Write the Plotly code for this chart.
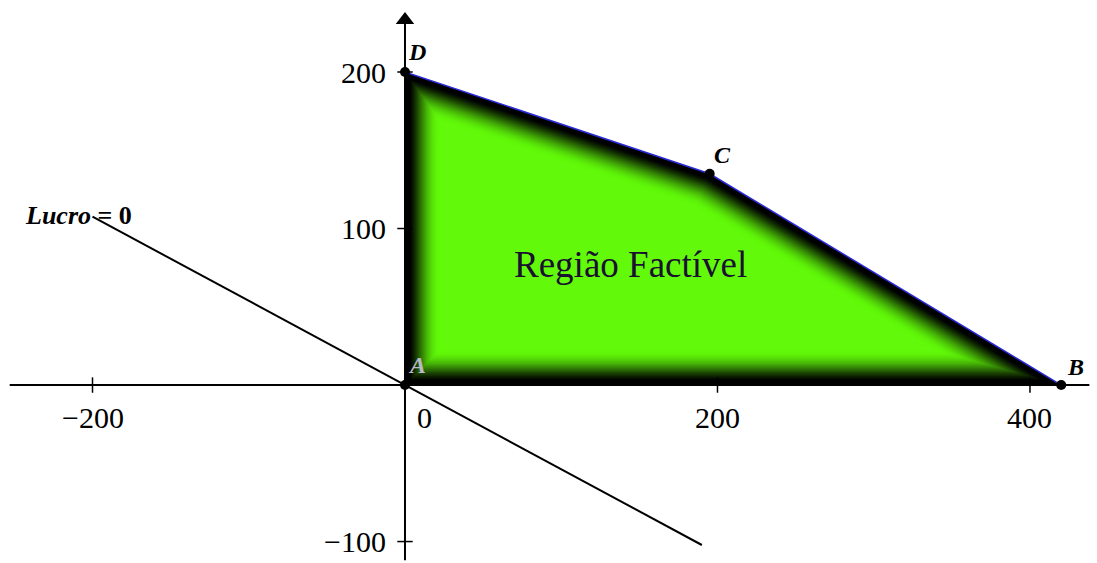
import numpy as np
import plotly.graph_objects as go

# vertices of the feasible region: A, B, C, D
vert_names = ['A', 'B', 'C', 'D']
vert_x = [0, 420, 195, 0]
vert_y = [0, 0, 135, 200]

# profit line (Lucro = 0) through the origin
lucro_x = [-200, 190]
lucro_y = [107.6, -102.2]

# axis ticks
x_ticks = [-200, 200, 400]
x_tick_labels = ['−200', '200', '400']
y_ticks = [-100, 100, 200]
y_tick_labels = ['−100', '100', '200']

X_RANGE = [-259.2, 442.9]
Y_RANGE = [-113.7, 246.0]
SERIF = 'Liberation Serif'
GREEN = np.array([98, 250, 10])


def inset(xs, ys, d):
    # shrink a convex (ccw) polygon by moving each edge inwards by d
    pts = np.column_stack([xs, ys]).astype(float)
    n = len(pts)
    edges = []
    for i in range(n):
        p, q = pts[i], pts[(i + 1) % n]
        t = (q - p) / np.linalg.norm(q - p)
        edges.append((p + np.array([-t[1], t[0]]) * d, t))
    out = []
    for i in range(n):
        (p1, t1), (p2, t2) = edges[i - 1], edges[i]
        a, _ = np.linalg.solve(np.array([t1, -t2]).T, p2 - p1)
        out.append(p1 + a * t1)
    return np.array(out)


fig = go.Figure()

# feasible region: dark blurred border fading into green
d0, d1 = 2.5, 22.0
for d in np.arange(0, d1 + 0.75, 0.75):
    t = np.clip((d - d0) / (d1 - d0), 0, 1)
    t = np.sin(t * np.pi / 2) ** 1.3
    r, g, b = (GREEN * t).astype(int)
    poly = inset(vert_x, vert_y, d)
    fig.add_trace(go.Scatter(
        x=list(poly[:, 0]) + [poly[0, 0]], y=list(poly[:, 1]) + [poly[0, 1]],
        mode='lines', fill='toself', fillcolor=f'rgb({r},{g},{b})',
        line=dict(width=0), hoverinfo='skip'))

# thin blue outline
fig.add_trace(go.Scatter(x=vert_x + [vert_x[0]], y=vert_y + [vert_y[0]], mode='lines',
                         line=dict(color='#2a2ad8', width=1.5), hoverinfo='skip'))

# axes
fig.add_trace(go.Scatter(x=[-253, 438], y=[0, 0], mode='lines',
                         line=dict(color='black', width=2), hoverinfo='skip'))
fig.add_trace(go.Scatter(x=[0, 0], y=[-112, 231], mode='lines',
                         line=dict(color='black', width=2), hoverinfo='skip'))
fig.add_trace(go.Scatter(x=[0], y=[233.2], mode='markers',
                         marker=dict(symbol='triangle-up', size=16, color='black'),
                         hoverinfo='skip'))
fig.add_trace(go.Scatter(x=x_ticks, y=[0] * len(x_ticks), mode='markers',
                         marker=dict(symbol='line-ns', size=11, line=dict(color='black', width=1.5)),
                         hoverinfo='skip'))
fig.add_trace(go.Scatter(x=[0] * len(y_ticks), y=y_ticks, mode='markers',
                         marker=dict(symbol='line-ew', size=11, line=dict(color='black', width=1.5)),
                         hoverinfo='skip'))

# profit line
fig.add_trace(go.Scatter(x=lucro_x, y=lucro_y, mode='lines',
                         line=dict(color='black', width=2), hoverinfo='skip'))

# vertex points
fig.add_trace(go.Scatter(x=vert_x, y=vert_y, mode='markers',
                         marker=dict(size=10, color='black'), hoverinfo='skip'))

# tick labels
for xv, lab in zip(x_ticks, x_tick_labels):
    fig.add_annotation(x=xv, y=-21, text=lab, showarrow=False,
                       font=dict(family=SERIF, size=30, color='black'))
fig.add_annotation(x=12.8, y=-21, text='0', showarrow=False,
                   font=dict(family=SERIF, size=30, color='black'))
for yv, lab in zip(y_ticks, y_tick_labels):
    fig.add_annotation(x=-11, y=yv, text=lab, showarrow=False, xanchor='right',
                       font=dict(family=SERIF, size=30, color='black'))

# vertex labels (A sits on the dark border, so it is drawn light)
lab_pos = {'A': (7.7, 12.8), 'B': (429.4, 11.5), 'C': (203, 147), 'D': (7.7, 212.8)}
for name in vert_names:
    lx, ly = lab_pos[name]
    fig.add_annotation(x=lx, y=ly, text=f'<b><i>{name}</i></b>', showarrow=False,
                       font=dict(family=SERIF, size=24,
                                 color='#b8b8c8' if name == 'A' else 'black'))

fig.add_annotation(x=-209, y=108.6, text='<b><i>Lucro</i> = 0</b>', showarrow=False,
                   font=dict(family=SERIF, size=26, color='black'))
fig.add_annotation(x=144.6, y=76.7, text='Região Factível', showarrow=False,
                   font=dict(family=SERIF, size=37, color='#1a1030'))

fig.update_layout(
    width=1097, height=563,
    margin=dict(l=0, r=0, t=0, b=0),
    plot_bgcolor='white', paper_bgcolor='white',
    showlegend=False,
    xaxis=dict(range=X_RANGE, visible=False),
    yaxis=dict(range=Y_RANGE, visible=False),
)

fig.write_html("out.html", config={'displayModeBar': False},
               post_script="document.body.style.margin='0';")
